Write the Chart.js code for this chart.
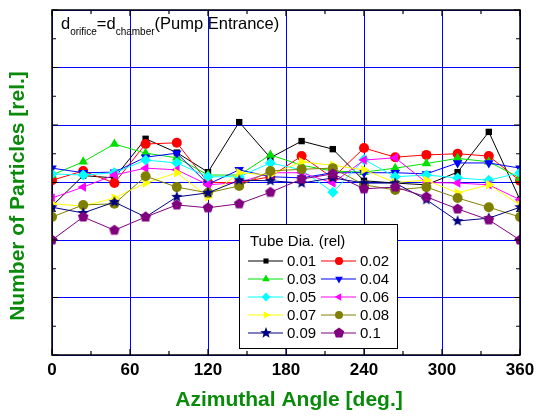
<!DOCTYPE html>
<html>
<head>
<meta charset="utf-8">
<script src="https://cdn.jsdelivr.net/npm/chart.js@4.4.0/dist/chart.umd.min.js"></script>
<style>
  html, body { margin: 0; padding: 0; background: #fff; }
  #wrap { width: 536px; height: 417px; }
</style>
</head>
<body>
<div id="wrap"><canvas id="chParticles" width="536" height="417"></canvas></div>
<script>
// data
var angles = [0, 24, 48, 72, 96, 120, 144, 168, 192, 216, 240, 264, 288, 312, 336, 360];
var xTicks = [0, 60, 120, 180, 240, 300, 360];
var tubeDia = ['0.01', '0.02', '0.03', '0.04', '0.05', '0.06', '0.07', '0.08', '0.09', '0.1'];

var s001 = [2.59, 3.12, 3.08, 3.76, 3.52, 3.18, 4.05, 3.43, 3.72, 3.58, 3.03, 2.99, 2.96, 3.18, 3.88, 2.70];
var s002 = [3.04, 3.20, 2.99, 3.67, 3.69, 3.00, 3.00, 3.10, 3.46, 3.08, 3.60, 3.44, 3.48, 3.50, 3.46, 3.03];
var s003 = [3.13, 3.36, 3.67, 3.51, 3.43, 3.13, 3.13, 3.48, 3.30, 3.20, 3.18, 3.25, 3.33, 3.42, 3.36, 3.08];
var s004 = [3.25, 3.17, 3.18, 3.44, 3.51, 2.97, 3.22, 3.10, 3.08, 3.17, 3.17, 3.17, 3.15, 3.34, 3.34, 3.25];
var s005 = [3.15, 3.13, 3.17, 3.39, 3.34, 3.10, 3.10, 3.34, 3.22, 2.83, 3.40, 3.10, 3.13, 3.08, 3.04, 3.17];
var s006 = [2.73, 2.92, 3.13, 3.25, 3.22, 2.96, 3.00, 3.17, 3.17, 2.99, 3.39, 3.43, 3.00, 2.99, 2.96, 2.70];
var s007 = [2.63, 2.59, 2.73, 2.99, 3.17, 2.75, 3.17, 3.13, 3.36, 3.30, 3.22, 3.00, 3.04, 2.82, 2.96, 2.61];
var s008 = [2.40, 2.61, 2.63, 3.11, 2.92, 2.82, 2.94, 3.20, 3.23, 3.25, 2.96, 2.87, 2.92, 2.73, 2.57, 2.40];
var s009 = [2.57, 2.47, 2.66, 2.40, 2.75, 2.82, 3.04, 3.03, 2.99, 3.08, 2.99, 2.99, 2.70, 2.33, 2.38, 2.57];
var s010 = [2.00, 2.40, 2.17, 2.40, 2.61, 2.56, 2.63, 2.83, 3.06, 3.15, 2.89, 2.92, 2.75, 2.54, 2.35, 2.00];

var seriesValues = [s001, s002, s003, s004, s005, s006, s007, s008, s009, s010];

// styles
var colors = ['#000000', '#ff0000', '#00e000', '#0000ff', '#00ffff', '#ff00ff', '#ffff00', '#808000', '#000080', '#800080'];
var green = '#0a8a0a';
var fontFam = '"Liberation Sans", Arial, sans-serif';

// custom marker images (star, pentagon)
function polyMarker(color, n, outerR, innerR) {
    var size = 14;
    var c = document.createElement('canvas');
    c.width = size; c.height = size;
    var g = c.getContext('2d');
    var pts = innerR ? n * 2 : n;
    g.beginPath();
    for (var i = 0; i < pts; i++) {
        var r = innerR ? (i % 2 === 0 ? outerR : innerR) : outerR;
        var a = -Math.PI / 2 + i * Math.PI * 2 / pts;
        var px = size / 2 + r * Math.cos(a);
        var py = size / 2 + r * Math.sin(a);
        if (i === 0) g.moveTo(px, py); else g.lineTo(px, py);
    }
    g.closePath();
    g.fillStyle = color;
    g.fill();
    return c;
}
var starImg = polyMarker('#000080', 5, 6, 2.6);
var pentImg = polyMarker('#800080', 5, 5.5, 0);

var markers = [
    { style: 'rect', rot: 0, r: 4.5 },
    { style: 'circle', rot: 0, r: 5 },
    { style: 'triangle', rot: 0, r: 5.5 },
    { style: 'triangle', rot: 180, r: 5.5 },
    { style: 'rectRot', rot: 0, r: 5.5 },
    { style: 'triangle', rot: 270, r: 5.5 },
    { style: 'triangle', rot: 90, r: 5.5 },
    { style: 'circle', rot: 0, r: 5 },
    { style: starImg, rot: 0, r: 6 },
    { style: pentImg, rot: 0, r: 6 }
];

var datasets = seriesValues.map(function (vals, i) {
    return {
        label: tubeDia[i],
        data: angles.map(function (a, j) { return { x: a, y: vals[j] }; }),
        borderColor: colors[i],
        backgroundColor: colors[i],
        borderWidth: 1,
        pointStyle: markers[i].style,
        pointRotation: markers[i].rot,
        pointRadius: markers[i].r,
        pointBorderWidth: 0,
        pointHoverRadius: markers[i].r,
        tension: 0,
        clip: 0,
        order: 9 - i
    };
});

// frame, inward ticks, annotation, axis titles and legend
var decorPlugin = {
    id: 'decor',
    afterDraw: function (chart) {
        var ctx = chart.ctx;
        var area = chart.chartArea;
        var xs = chart.scales.x, ys = chart.scales.y;
        ctx.save();

        // frame
        ctx.strokeStyle = '#000';
        ctx.lineWidth = 1.5;
        ctx.strokeRect(area.left, area.top, area.right - area.left, area.bottom - area.top);

        // inward ticks
        ctx.lineWidth = 1.2;
        ctx.beginPath();
        for (var v = 0; v <= 360; v += 30) {
            var px = xs.getPixelForValue(v);
            var len = v % 60 === 0 ? 6 : 4;
            ctx.moveTo(px, area.bottom); ctx.lineTo(px, area.bottom - len);
            ctx.moveTo(px, area.top); ctx.lineTo(px, area.top + len);
        }
        for (var w = 0; w <= 6; w += 0.5) {
            var py = ys.getPixelForValue(w);
            var len2 = w % 1 === 0 ? 6 : 4;
            ctx.moveTo(area.left, py); ctx.lineTo(area.left + len2, py);
            ctx.moveTo(area.right, py); ctx.lineTo(area.right - len2, py);
        }
        ctx.stroke();

        // annotation d_orifice = d_chamber (Pump Entrance)
        ctx.fillStyle = '#000';
        ctx.textBaseline = 'alphabetic';
        ctx.textAlign = 'left';
        var tx = 61, ty = 29;
        var parts = [['d', 16.5, 0], ['orifice', 10, 6], ['=d', 16.5, 0], ['chamber', 10, 6], ['(Pump Entrance)', 16.5, 0]];
        parts.forEach(function (p) {
            ctx.font = p[1] + 'px ' + fontFam;
            ctx.fillText(p[0], tx, ty + p[2]);
            tx += ctx.measureText(p[0]).width;
        });

        // axis titles
        ctx.fillStyle = green;
        ctx.font = 'bold 21px ' + fontFam;
        ctx.textAlign = 'center';
        ctx.textBaseline = 'middle';
        ctx.fillText('Azimuthal Angle [deg.]', 289, 400);
        ctx.save();
        ctx.translate(18, 196);
        ctx.rotate(-Math.PI / 2);
        ctx.fillText('Number of Particles [rel.]', 0, 0);
        ctx.restore();

        // legend box
        var bx = 239, by = 224, bw = 158, bh = 124;
        ctx.fillStyle = '#fff';
        ctx.fillRect(bx, by, bw, bh);
        ctx.strokeStyle = '#000';
        ctx.lineWidth = 1;
        ctx.strokeRect(bx + 0.5, by + 0.5, bw, bh);
        ctx.fillStyle = '#000';
        ctx.textAlign = 'left';
        ctx.textBaseline = 'middle';
        ctx.font = '15px ' + fontFam;
        ctx.fillText('Tube Dia. (rel)', 250, 242);
        chart.data.datasets.forEach(function (ds, i) {
            var col = i % 2, row = Math.floor(i / 2);
            var lx = col === 0 ? 248 : 321;
            var ly = 261 + row * 18;
            ctx.strokeStyle = ds.borderColor;
            ctx.lineWidth = 1;
            ctx.beginPath();
            ctx.moveTo(lx, ly); ctx.lineTo(lx + 35, ly);
            ctx.stroke();
            ctx.fillStyle = ds.backgroundColor;
            Chart.helpers.drawPoint(ctx, {
                pointStyle: ds.pointStyle,
                rotation: ds.pointRotation,
                radius: ds.pointRadius * 0.8,
                borderWidth: 0
            }, lx + 18, ly);
            ctx.fillStyle = '#000';
            ctx.fillText(ds.label, lx + 39, ly + 1);
        });

        ctx.restore();
    }
};

new Chart(document.getElementById('chParticles'), {
    type: 'line',
    data: { datasets: datasets },
    options: {
        responsive: false,
        animation: false,
        layout: { padding: { left: 52, right: 16, top: 10, bottom: 0 } },
        plugins: { legend: { display: false }, tooltip: { enabled: false } },
        scales: {
            x: {
                type: 'linear',
                min: 0,
                max: 360,
                afterBuildTicks: function (s) { s.ticks = xTicks.map(function (v) { return { value: v }; }); },
                afterFit: function (s) { s.height = 62; s.paddingLeft = 0; s.paddingRight = 0; },
                ticks: {
                    color: '#000',
                    padding: 5,
                    font: { family: fontFam, size: 17, weight: 'bold' }
                },
                grid: { color: '#0000ff', lineWidth: 1, drawTicks: false },
                border: { display: false }
            },
            y: {
                type: 'linear',
                min: 0,
                max: 6,
                ticks: { stepSize: 1, display: false },
                afterFit: function (s) { s.width = 0; },
                grid: { color: '#0000ff', lineWidth: 1, drawTicks: false },
                border: { display: false }
            }
        }
    },
    plugins: [decorPlugin]
});
</script>
</body>
</html>
